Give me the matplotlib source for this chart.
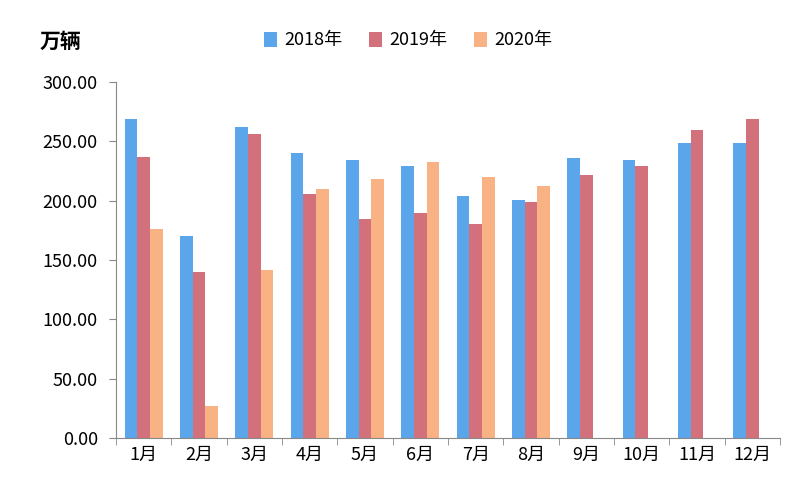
import matplotlib
matplotlib.use("Agg")
import matplotlib.pyplot as plt
import numpy as np

plt.rcParams["font.family"] = ["Noto Sans CJK SC"]

months = ["1月","2月","3月","4月","5月","6月","7月","8月","9月","10月","11月","12月"]
s2018 = [268.7,170,262,240,234,229,204,200.5,236,234,249,248.5]
s2019 = [236.7,140,256,205.5,184.5,189.5,180,199,221.5,229,259.5,268.7]
s2020 = [176,27,141.5,210,218,232.5,220,212]
yticks = [0,50,100,150,200,250,300]

fig = plt.figure(figsize=(8,5), dpi=100)
ax = fig.add_axes([0.145,0.124,0.83,0.712])
x = np.arange(len(months))
w = 0.23
ax.bar(x-w, s2018, w, color="#5BA5EA", label="2018年")
ax.bar(x, s2019, w, color="#D2707C", label="2019年")
ax.bar(np.arange(len(s2020))+w, s2020, w, color="#F9B283", label="2020年")
ax.set_xlim(-0.5, 11.5)
ax.set_ylim(0,300)
ax.set_yticks(yticks)
ax.set_yticklabels([f"{v:.2f}" for v in yticks], fontsize=13)
ax.set_xticks(x)
ax.set_xticklabels(months, fontsize=13)
ax.set_xticks(np.arange(-0.5,12,1), minor=True)
ax.tick_params(axis="x", which="major", length=0, pad=6)
ax.tick_params(axis="x", which="minor", length=5, color="#888888", direction="out")
ax.tick_params(axis="y", length=5, color="#888888", pad=8)
for s in ["top","right"]:
    ax.spines[s].set_visible(False)
for s in ["left","bottom"]:
    ax.spines[s].set_color("#888888")
fig.text(0.05,0.905,"万辆",fontsize=15,fontweight="bold")
fig.legend(loc="upper center", bbox_to_anchor=(0.51,0.97), ncol=3, frameon=False,
           fontsize=13, handlelength=0.7, handleheight=0.9, columnspacing=1.5, handletextpad=0.4)
fig.savefig("out.png")
